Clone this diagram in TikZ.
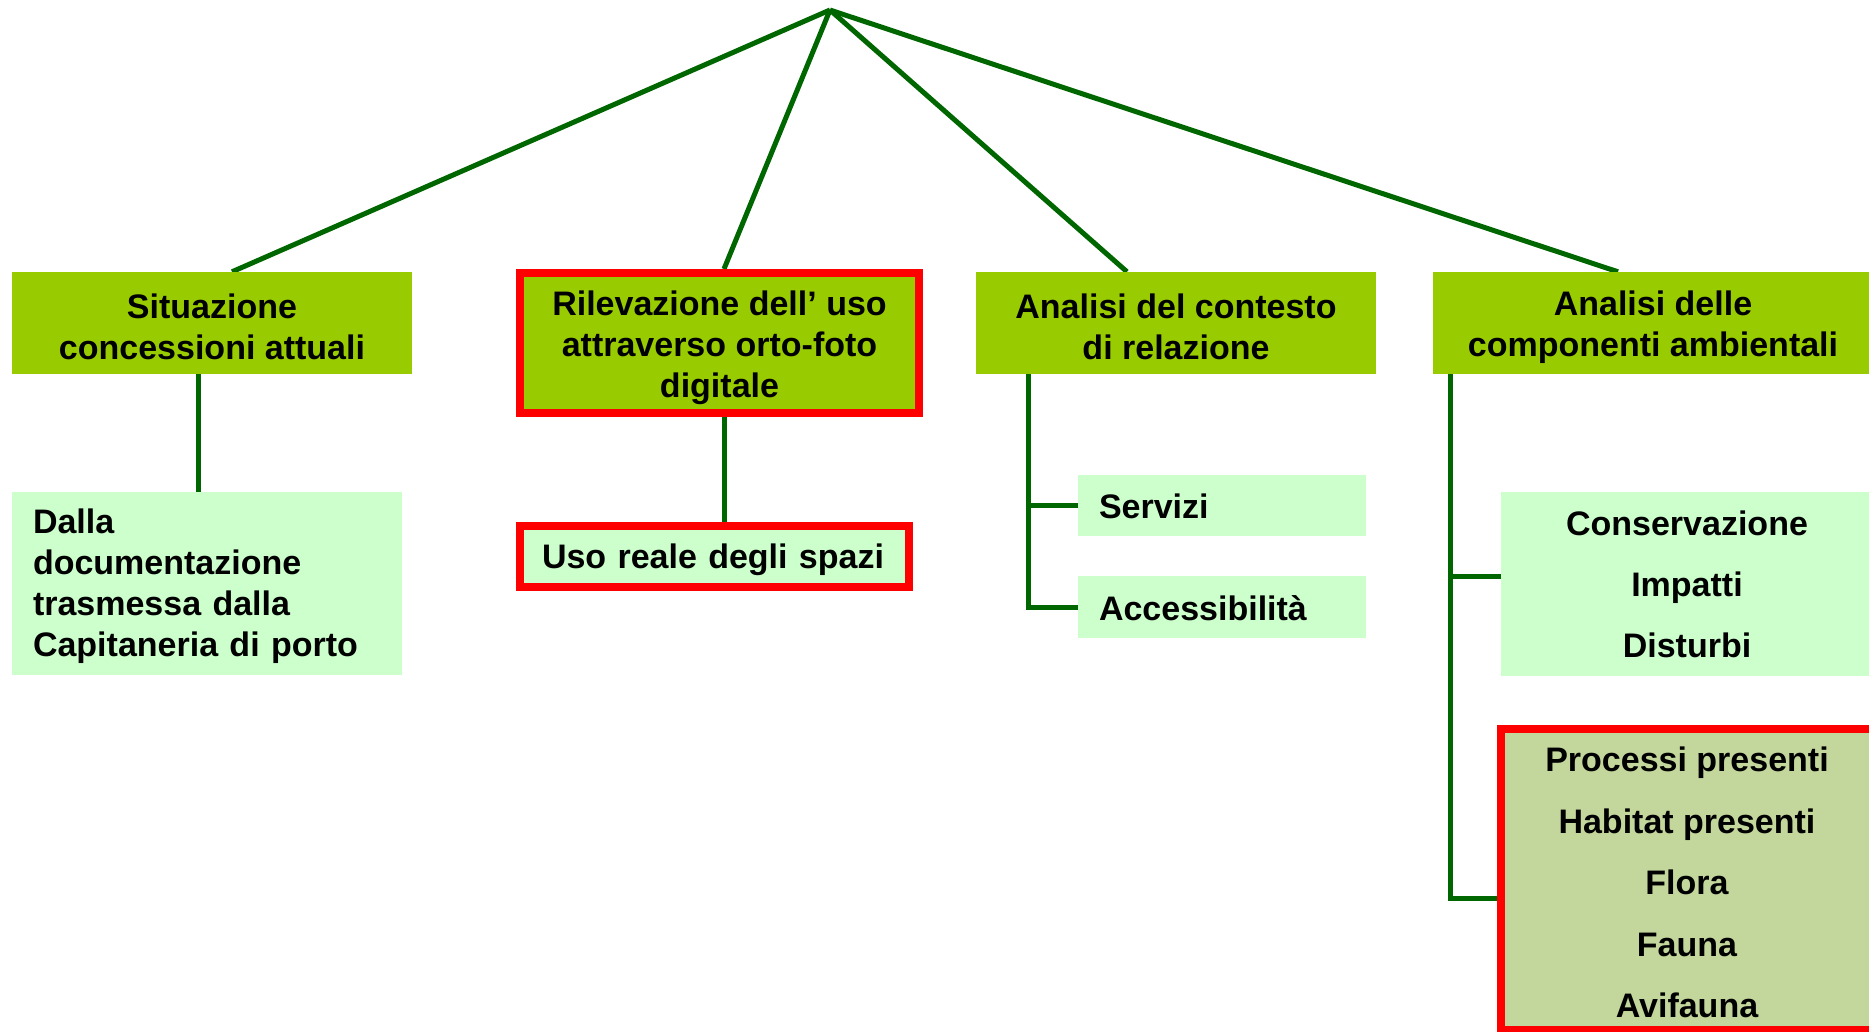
\documentclass[tikz,border=0pt]{standalone}
\usepackage{fontspec}
\setmainfont{Liberation Sans}
\usetikzlibrary{backgrounds}
\definecolor{hdrgreen}{HTML}{99CC00}
\definecolor{leafgreen}{HTML}{CCFFCC}
\definecolor{olivefill}{HTML}{C3D69B}
\definecolor{linegreen}{HTML}{006600}
\definecolor{redline}{HTML}{FF0000}
\tikzset{
  hdr/.style={fill=hdrgreen, inner sep=0pt},
  leaf/.style={fill=leafgreen, inner sep=0pt},
  redframe/.style={draw=redline, line width=8pt},
  txt/.style={inner sep=0pt, align=center,
    font=\fontsize{34}{41}\selectfont\bfseries},
  ltxt/.style={inner sep=0pt, align=left,
    font=\fontsize{34}{41}\selectfont\bfseries},
  conn/.style={draw=linegreen, line width=5pt}
}
\begin{document}
\begin{tikzpicture}[x=1pt,y=-1pt]
\useasboundingbox (0,0) rectangle (1869,1032);
\clip (0,0) rectangle (1869,1032);
\coordinate (apex) at (830,10);

% header boxes
\node[hdr, minimum width=400pt, minimum height=102pt] (b1) at (212,323) {};
\node[hdr, redframe, minimum width=399pt, minimum height=140pt] (b2) at (719.5,343) {};
\node[hdr, minimum width=400pt, minimum height=102pt] (b3) at (1176,323) {};
\node[hdr, minimum width=440pt, minimum height=102pt] (b4) at (1653,323) {};

% leaf boxes
\node[leaf, minimum width=390pt, minimum height=183pt] (dalla) at (207,583.5) {};
\node[leaf, redframe, minimum width=389pt, minimum height=61pt] (uso) at (714.5,556.5) {};
\node[leaf, minimum width=288pt, minimum height=61pt] (serv) at (1222,505.5) {};
\node[leaf, minimum width=288pt, minimum height=62pt] (acc) at (1222,607) {};
\node[leaf, minimum width=372pt, minimum height=184pt] (cons) at (1687,584) {};
\node[leaf, redframe, fill=olivefill, minimum width=376pt, minimum height=301pt] (redb) at (1689,879.5) {};

% texts
\node[txt, yshift=-4pt] (b1t) at (b1.center) {Situazione\\concessioni attuali};
\node[txt, yshift=-5pt] (b2t) at (b2.center) {Rilevazione dell’ uso\\attraverso orto-foto\\digitale};
\node[txt, yshift=-3.5pt] (b3t) at (b3.center) {Analisi del contesto\\di relazione};
\node[txt, yshift=-4pt] (b4t) at (b4.center) {Analisi delle\\componenti ambientali};
\node[ltxt, text width=348pt, yshift=-3pt] (dallat) at (dalla.center)
  {Dalla\\documentazione\\trasmessa dalla\\Capitaneria di porto};
\node[ltxt, text width=345pt, yshift=-3pt] (usot) at (uso.center) {Uso reale degli spazi};
\node[ltxt, text width=246pt, yshift=-1pt] (servt) at (serv.center) {Servizi};
\node[ltxt, text width=246pt, yshift=-1pt] (acct) at (acc.center) {Accessibilità};
\node[txt, font=\fontsize{34}{61}\selectfont\bfseries, xshift=0pt] (const) at (cons.center)
  {Conservazione\\Impatti\\Disturbi};
\node[txt, font=\fontsize{34}{61.5}\selectfont\bfseries, xshift=-2pt, yshift=-3pt] (redbt) at (redb.center)
  {Processi presenti\\Habitat presenti\\Flora\\Fauna\\Avifauna};

\begin{scope}[on background layer]
  \draw[conn] (apex) -- ([xshift=20pt]b1.north);
  \draw[conn] (apex) -- ([xshift=4.5pt]b2.north);
  \draw[conn] (apex) -- ([xshift=-49pt]b3.north);
  \draw[conn] (apex) -- ([xshift=-35pt]b4.north);
  \draw[conn] ([xshift=-14pt]b1.south) -- ([xshift=-9pt]dalla.north);
  \draw[conn] ([xshift=4.5pt]b2.south) -- ([xshift=9.5pt]uso.north);
  \draw[conn] ([xshift=-148pt]b3.south) |- (serv.west);
  \draw[conn] ([xshift=-148pt]b3.south) |- (acc.west);
  \draw[conn] ([xshift=-203pt]b4.south) |- ([yshift=8pt]cons.west);
  \draw[conn] ([xshift=-203pt]b4.south) |- ([yshift=-18.5pt]redb.west);
\end{scope}
\end{tikzpicture}
\end{document}
